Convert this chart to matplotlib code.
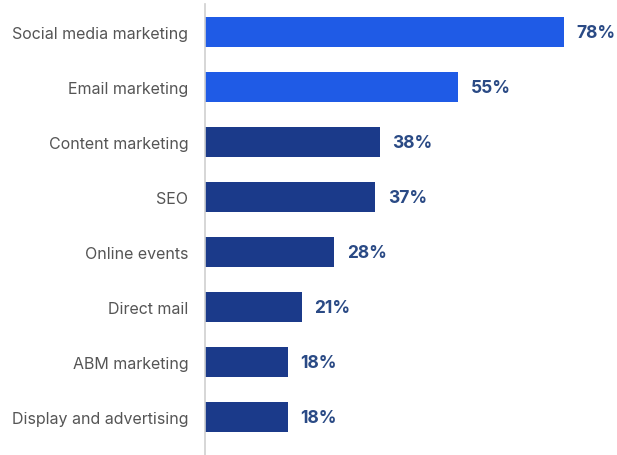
import matplotlib
matplotlib.use("Agg")
import matplotlib.pyplot as plt

categories = ["Social media marketing", "Email marketing", "Content marketing", "SEO",
              "Online events", "Direct mail", "ABM marketing", "Display and advertising"]
values = [78, 55, 38, 37, 28, 21, 18, 18]
bar_colors = ["#1F5BE6", "#1F5BE6", "#1B3A8A", "#1B3A8A",
              "#1B3A8A", "#1B3A8A", "#1B3A8A", "#1B3A8A"]

plt.rcParams['font.family'] = ['Inter', 'DejaVu Sans']

fig = plt.figure(figsize=(6.17, 4.56), dpi=100)
ax = fig.add_axes([205 / 617, 0, 412 / 617, 451 / 456])

y = list(range(len(categories)))
ax.barh(y, values, height=0.56, color=bar_colors)

for yi, v in zip(y, values):
    ax.text(v + 2.8, yi, f"{v}%", va="center", ha="left",
            fontsize=12.5, fontweight="bold", color="#2A4A85")

ax.set_xlim(0, 89.6)
ax.set_ylim(7.69, -0.51)
ax.set_yticks(y)
ax.set_yticklabels(categories, fontsize=11.5, color="#555555")
ax.tick_params(axis="y", length=0, pad=12)
ax.set_xticks([])
for s in ["top", "right", "bottom"]:
    ax.spines[s].set_visible(False)
ax.spines["left"].set_color("#CFCFCF")
ax.spines["left"].set_linewidth(1.2)

fig.savefig("out.png", dpi=100)
